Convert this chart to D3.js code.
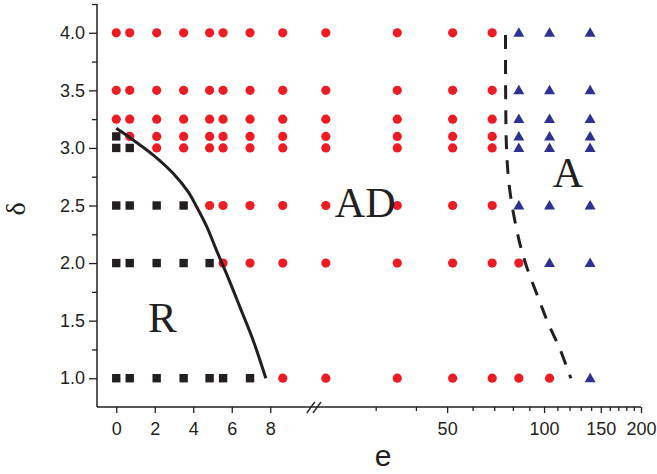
<!DOCTYPE html>
<html>
<head>
<meta charset="UTF-8">
<script src="https://d3js.org/d3.v7.min.js"></script>
<style>
  body { margin: 0; background: #fff; }
  svg { display: block; }
  .tick text { font-family: "Liberation Sans", Arial, sans-serif; font-size: 18px; fill: #231f20; }
  .tick line { stroke: #231f20; stroke-width: 1.3; }
  .phase { font-family: "Liberation Serif", "Times New Roman", serif; fill: #231f20; }
</style>
</head>
<body>
<div id="chart"></div>
<script>
// data
const eValues = [0, 0.7, 2.1, 3.5, 4.85, 5.55, 6.95, 8.65, 21, 35, 52, 69, 83.5, 104, 139];
const deltaValues = [4.0, 3.5, 3.25, 3.1, 3.0, 2.5, 2.0, 1.0];
// R = square, D = circle, A = triangle (one char per e value)
const phaseRows = [
  "DDDDDDDDDDDDAAA",
  "DDDDDDDDDDDDAAA",
  "DDDDDDDDDDDDAAA",
  "RDDDDDDDDDDDAAA",
  "RRDDDDDDDDDDAAA",
  "RRRRDDDDDDDDAAA",
  "RRRRRDDDDDDDDAA",
  "RRRRRRRDDDDDDDA"
];
// boundary R / AD (solid line)
const solidE = [0, 0.87, 1.91, 2.95, 3.73, 4.17, 4.69, 5.21, 5.72, 6.42, 7.11, 7.77];
const solidDelta = [3.17, 3.07, 2.94, 2.78, 2.62, 2.49, 2.32, 2.11, 1.91, 1.62, 1.33, 1.0];
// boundary AD / A (dashed line)
const dashE = [75.9, 76.0, 76.5, 78.2, 83.1, 88.0, 96.5, 103.6, 111.4, 121.1];
const dashDelta = [3.98, 3.42, 2.98, 2.64, 2.23, 1.98, 1.68, 1.46, 1.27, 1.0];

const xTicksLeft = [0, 2, 4, 6, 8];
const xTicksRight = [50, 100, 150, 200];
const xMinorRight = [30, 40, 60, 70, 80, 90, 110, 120, 130, 140, 160, 170, 180, 190];
const yTicks = [1.0, 1.5, 2.0, 2.5, 3.0, 3.5, 4.0];
const yMinor = [1.25, 1.75, 2.25, 2.75, 3.25, 3.75, 4.25];

const width = 657, height = 474;
const plotLeft = 97, plotRight = 641, plotTop = 4, plotBottom = 407;
const breakL = 308.75, breakR = 319;

const svg = d3.select("#chart").append("svg")
  .attr("width", width).attr("height", height);

const xl = d3.scaleLinear().domain([-1, 10]).range([plotLeft, breakL]);
const xr = d3.scaleLog().domain([20, 200]).range([breakR, plotRight]);
const x = e => e <= 10 ? xl(e) : xr(e);
const y = d3.scaleLinear().domain([0.75, 4.25]).range([plotBottom, plotTop]);

const ink = "#231f20";

// axes
const gx = svg.append("g").attr("transform", `translate(0,${plotBottom})`);
gx.append("g").call(d3.axisBottom(xl).tickValues(xTicksLeft).tickSize(6).tickPadding(9).tickSizeOuter(0));
gx.append("g").call(d3.axisBottom(xr).tickValues(xTicksRight).tickFormat(d3.format("d")).tickSize(6).tickPadding(9).tickSizeOuter(0));
gx.append("g").call(d3.axisBottom(xr).tickValues(xMinorRight).tickFormat("").tickSize(4).tickSizeOuter(0));
gx.selectAll(".domain").remove();
gx.append("line").attr("x1", plotLeft).attr("x2", plotRight).attr("stroke", ink).attr("stroke-width", 1.5);
// break marks
[breakL - 2, breakR - 6].forEach(bx => {
  gx.append("line")
    .attr("x1", bx).attr("y1", 6).attr("x2", bx + 8).attr("y2", -5)
    .attr("stroke", ink).attr("stroke-width", 1.3);
});

const gy = svg.append("g").attr("transform", `translate(${plotLeft},0)`);
gy.append("g").call(d3.axisLeft(y).tickValues(yTicks).tickFormat(d3.format(".1f")).tickSize(8).tickPadding(4).tickSizeOuter(0));
gy.append("g").call(d3.axisLeft(y).tickValues(yMinor).tickFormat("").tickSize(5).tickSizeOuter(0));
gy.selectAll(".domain").remove();
gy.append("line").attr("y1", plotTop).attr("y2", plotBottom).attr("stroke", ink).attr("stroke-width", 1.5);

// axis titles
svg.append("text").attr("x", 383).attr("y", 466).attr("text-anchor", "middle")
  .attr("font-family", "Liberation Sans, Arial, sans-serif").attr("font-size", 30).attr("fill", ink).text("e");
svg.append("text").attr("transform", "translate(25,209) rotate(-90)").attr("text-anchor", "middle")
  .attr("font-family", "Liberation Serif, serif").attr("font-size", 28).attr("fill", ink).text("δ");

// points
const points = [];
deltaValues.forEach((d, i) => {
  eValues.forEach((e, j) => points.push({ e: e, d: d, p: phaseRows[i][j] }));
});

const pts = svg.append("g");
pts.selectAll("rect").data(points.filter(p => p.p === "R")).join("rect")
  .attr("x", p => x(p.e) - 4.2).attr("y", p => y(p.d) - 4.2)
  .attr("width", 8.4).attr("height", 8.4).attr("fill", ink);
pts.selectAll("circle").data(points.filter(p => p.p === "D")).join("circle")
  .attr("cx", p => x(p.e)).attr("cy", p => y(p.d)).attr("r", 4.6).attr("fill", "#ed1c24");
const tri = d3.symbol().type(d3.symbolTriangle).size(52);
pts.selectAll("path").data(points.filter(p => p.p === "A")).join("path")
  .attr("transform", p => `translate(${x(p.e)},${y(p.d) + 0.8})`)
  .attr("d", tri).attr("fill", "#2e3192");

// boundaries
const line = d3.line().x(d => x(d[0])).y(d => y(d[1])).curve(d3.curveCatmullRom);
svg.append("path").datum(d3.zip(solidE, solidDelta)).attr("d", line)
  .attr("fill", "none").attr("stroke", ink).attr("stroke-width", 3);
svg.append("path").datum(d3.zip(dashE, dashDelta)).attr("d", line)
  .attr("fill", "none").attr("stroke", ink).attr("stroke-width", 3).attr("stroke-dasharray", "14,11");

// phase labels
svg.append("text").attr("class", "phase").attr("x", x(1.65)).attr("y", y(1.4)).attr("font-size", 43).text("R");
svg.append("text").attr("class", "phase").attr("x", x(22.4)).attr("y", y(2.4)).attr("font-size", 42).text("AD");
svg.append("text").attr("class", "phase").attr("x", x(106.4)).attr("y", y(2.66)).attr("font-size", 42).text("A");
</script>
</body>
</html>
